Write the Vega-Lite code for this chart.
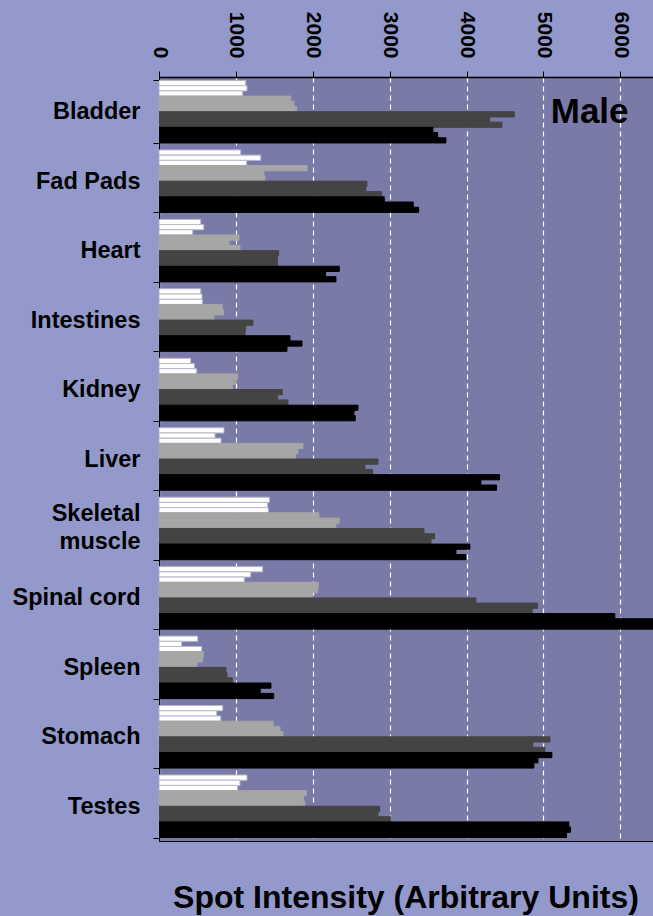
{
  "$schema": "https://vega.github.io/schema/vega-lite/v6.json",
  "autosize": {"type": "none"},
  "padding": {"left": 159, "top": 77, "right": 0, "bottom": 75},
  "width": 494,
  "height": 764,
  "background": "#9399CB",
  "config": {
    "font": "Liberation Sans",
    "view": {"fill": "#797AA8", "stroke": "#000000", "strokeWidth": 1}
  },
  "title": {
    "text": "Spot Intensity (Arbitrary Units)",
    "orient": "bottom",
    "anchor": "middle",
    "fontSize": 32,
    "fontWeight": "bold",
    "color": "#000000",
    "offset": 42
  },
  "datasets": {
    "bars": [
      {"t":"Bladder","g":"a","s":"a1","v":1127},{"t":"Bladder","g":"a","s":"a2","v":1144},{"t":"Bladder","g":"a","s":"a3","v":1088},
      {"t":"Bladder","g":"b","s":"b1","v":1712},{"t":"Bladder","g":"b","s":"b2","v":1755},{"t":"Bladder","g":"b","s":"b3","v":1790},
      {"t":"Bladder","g":"c","s":"c1","v":4620},{"t":"Bladder","g":"c","s":"c2","v":4300},{"t":"Bladder","g":"c","s":"c3","v":4460},
      {"t":"Bladder","g":"d","s":"d1","v":3562},{"t":"Bladder","g":"d","s":"d2","v":3623},{"t":"Bladder","g":"d","s":"d3","v":3731},
      {"t":"Fad Pads","g":"a","s":"a1","v":1062},{"t":"Fad Pads","g":"a","s":"a2","v":1322},{"t":"Fad Pads","g":"a","s":"a3","v":1140},
      {"t":"Fad Pads","g":"b","s":"b1","v":1924},{"t":"Fad Pads","g":"b","s":"b2","v":1365},{"t":"Fad Pads","g":"b","s":"b3","v":1378},
      {"t":"Fad Pads","g":"c","s":"c1","v":2704},{"t":"Fad Pads","g":"c","s":"c2","v":2691},{"t":"Fad Pads","g":"c","s":"c3","v":2895},
      {"t":"Fad Pads","g":"d","s":"d1","v":2929},{"t":"Fad Pads","g":"d","s":"d2","v":3306},{"t":"Fad Pads","g":"d","s":"d3","v":3376},
      {"t":"Heart","g":"a","s":"a1","v":542},{"t":"Heart","g":"a","s":"a2","v":581},{"t":"Heart","g":"a","s":"a3","v":438},
      {"t":"Heart","g":"b","s":"b1","v":1040},{"t":"Heart","g":"b","s":"b2","v":910},{"t":"Heart","g":"b","s":"b3","v":1053},
      {"t":"Heart","g":"c","s":"c1","v":1556},{"t":"Heart","g":"c","s":"c2","v":1538},{"t":"Heart","g":"c","s":"c3","v":1543},
      {"t":"Heart","g":"d","s":"d1","v":2344},{"t":"Heart","g":"d","s":"d2","v":2167},{"t":"Heart","g":"d","s":"d3","v":2301},
      {"t":"Intestines","g":"a","s":"a1","v":542},{"t":"Intestines","g":"a","s":"a2","v":559},{"t":"Intestines","g":"a","s":"a3","v":563},
      {"t":"Intestines","g":"b","s":"b1","v":823},{"t":"Intestines","g":"b","s":"b2","v":841},{"t":"Intestines","g":"b","s":"b3","v":715},
      {"t":"Intestines","g":"c","s":"c1","v":1222},{"t":"Intestines","g":"c","s":"c2","v":1127},{"t":"Intestines","g":"c","s":"c3","v":1118},
      {"t":"Intestines","g":"d","s":"d1","v":1703},{"t":"Intestines","g":"d","s":"d2","v":1859},{"t":"Intestines","g":"d","s":"d3","v":1664},
      {"t":"Kidney","g":"a","s":"a1","v":412},{"t":"Kidney","g":"a","s":"a2","v":459},{"t":"Kidney","g":"a","s":"a3","v":490},
      {"t":"Kidney","g":"b","s":"b1","v":1023},{"t":"Kidney","g":"b","s":"b2","v":1001},{"t":"Kidney","g":"b","s":"b3","v":953},
      {"t":"Kidney","g":"c","s":"c1","v":1603},{"t":"Kidney","g":"c","s":"c2","v":1543},{"t":"Kidney","g":"c","s":"c3","v":1677},
      {"t":"Kidney","g":"d","s":"d1","v":2587},{"t":"Kidney","g":"d","s":"d2","v":2535},{"t":"Kidney","g":"d","s":"d3","v":2552},
      {"t":"Liver","g":"a","s":"a1","v":845},{"t":"Liver","g":"a","s":"a2","v":728},{"t":"Liver","g":"a","s":"a3","v":806},
      {"t":"Liver","g":"b","s":"b1","v":1872},{"t":"Liver","g":"b","s":"b2","v":1807},{"t":"Liver","g":"b","s":"b3","v":1772},
      {"t":"Liver","g":"c","s":"c1","v":2847},{"t":"Liver","g":"c","s":"c2","v":2678},{"t":"Liver","g":"c","s":"c3","v":2778},
      {"t":"Liver","g":"d","s":"d1","v":4429},{"t":"Liver","g":"d","s":"d2","v":4186},{"t":"Liver","g":"d","s":"d3","v":4390},
      {"t":"Skeletal muscle","g":"a","s":"a1","v":1434},{"t":"Skeletal muscle","g":"a","s":"a2","v":1413},{"t":"Skeletal muscle","g":"a","s":"a3","v":1421},
      {"t":"Skeletal muscle","g":"b","s":"b1","v":2080},{"t":"Skeletal muscle","g":"b","s":"b2","v":2344},{"t":"Skeletal muscle","g":"b","s":"b3","v":2301},
      {"t":"Skeletal muscle","g":"c","s":"c1","v":3445},{"t":"Skeletal muscle","g":"c","s":"c2","v":3584},{"t":"Skeletal muscle","g":"c","s":"c3","v":3536},
      {"t":"Skeletal muscle","g":"d","s":"d1","v":4043},{"t":"Skeletal muscle","g":"d","s":"d2","v":3861},{"t":"Skeletal muscle","g":"d","s":"d3","v":3991},
      {"t":"Spinal cord","g":"a","s":"a1","v":1348},{"t":"Spinal cord","g":"a","s":"a2","v":1192},{"t":"Spinal cord","g":"a","s":"a3","v":1109},
      {"t":"Spinal cord","g":"b","s":"b1","v":2071},{"t":"Spinal cord","g":"b","s":"b2","v":2063},{"t":"Spinal cord","g":"b","s":"b3","v":1993},
      {"t":"Spinal cord","g":"c","s":"c1","v":4121},{"t":"Spinal cord","g":"c","s":"c2","v":4923},{"t":"Spinal cord","g":"c","s":"c3","v":4853},
      {"t":"Spinal cord","g":"d","s":"d1","v":5928},{"t":"Spinal cord","g":"d","s":"d2","v":6500},{"t":"Spinal cord","g":"d","s":"d3","v":6500},
      {"t":"Spleen","g":"a","s":"a1","v":503},{"t":"Spleen","g":"a","s":"a2","v":295},{"t":"Spleen","g":"a","s":"a3","v":555},
      {"t":"Spleen","g":"b","s":"b1","v":576},{"t":"Spleen","g":"b","s":"b2","v":568},{"t":"Spleen","g":"b","s":"b3","v":494},
      {"t":"Spleen","g":"c","s":"c1","v":871},{"t":"Spleen","g":"c","s":"c2","v":884},{"t":"Spleen","g":"c","s":"c3","v":953},
      {"t":"Spleen","g":"d","s":"d1","v":1456},{"t":"Spleen","g":"d","s":"d2","v":1317},{"t":"Spleen","g":"d","s":"d3","v":1491},
      {"t":"Stomach","g":"a","s":"a1","v":828},{"t":"Stomach","g":"a","s":"a2","v":750},{"t":"Stomach","g":"a","s":"a3","v":802},
      {"t":"Stomach","g":"b","s":"b1","v":1486},{"t":"Stomach","g":"b","s":"b2","v":1573},{"t":"Stomach","g":"b","s":"b3","v":1612},
      {"t":"Stomach","g":"c","s":"c1","v":5083},{"t":"Stomach","g":"c","s":"c2","v":4862},{"t":"Stomach","g":"c","s":"c3","v":5018},
      {"t":"Stomach","g":"d","s":"d1","v":5109},{"t":"Stomach","g":"d","s":"d2","v":4927},{"t":"Stomach","g":"d","s":"d3","v":4875},
      {"t":"Testes","g":"a","s":"a1","v":1144},{"t":"Testes","g":"a","s":"a2","v":1053},{"t":"Testes","g":"a","s":"a3","v":1023},
      {"t":"Testes","g":"b","s":"b1","v":1915},{"t":"Testes","g":"b","s":"b2","v":1876},{"t":"Testes","g":"b","s":"b3","v":1898},
      {"t":"Testes","g":"c","s":"c1","v":2869},{"t":"Testes","g":"c","s":"c2","v":2847},{"t":"Testes","g":"c","s":"c3","v":3012},
      {"t":"Testes","g":"d","s":"d1","v":5330},{"t":"Testes","g":"d","s":"d2","v":5352},{"t":"Testes","g":"d","s":"d3","v":5300}
    ],
    "label": [{"label": "Male", "x": 5600, "t": "Bladder"}]
  },
  "layer": [
    {
      "data": {"name": "bars"},
      "mark": {"type": "bar", "clip": true, "strokeWidth": 1},
      "encoding": {
        "y": {
          "field": "t",
          "type": "nominal",
          "sort": null,
          "scale": {"paddingInner": 0.1, "paddingOuter": 0.05},
          "axis": {
            "title": null,
            "orient": "left",
            "tickBand": "extent",
            "tickSize": 6,
            "tickColor": "#000000",
            "domainColor": "#000000",
            "labelPadding": 13,
            "labelFontSize": 23.5,
            "labelFontWeight": "bold",
            "labelColor": "#000000",
            "labelLineHeight": 28,
            "labelLimit": 300,
            "labelOffset": {"condition": {"test": "datum.value == 'Skeletal muscle'", "value": -15}, "value": 0},
            "labelExpr": "datum.value == 'Skeletal muscle' ? ['Skeletal', 'muscle'] : datum.value"
          }
        },
        "yOffset": {
          "field": "s",
          "type": "nominal",
          "scale": {"paddingInner": 0, "paddingOuter": 0}
        },
        "x": {
          "field": "v",
          "type": "quantitative",
          "scale": {"domain": [0, 6424], "nice": false},
          "axis": {
            "title": null,
            "orient": "top",
            "values": [0, 1000, 2000, 3000, 4000, 5000, 6000],
            "format": "d",
            "labelAngle": 90,
            "labelAlign": "right",
            "labelBaseline": "middle",
            "labelFontSize": 21,
            "labelFontWeight": "bold",
            "labelColor": "#000000",
            "labelPadding": 13,
            "tickSize": 6,
            "tickColor": "#000000",
            "domainColor": "#000000",
            "domainWidth": 1.5,
            "grid": true,
            "gridColor": "#FFFFFF",
            "gridDash": [5, 4],
            "gridOpacity": 1,
            "gridWidth": 1.2
          }
        },
        "color": {
          "field": "g",
          "type": "nominal",
          "scale": {"domain": ["a", "b", "c", "d"], "range": ["#FFFFFF", "#A6A6A6", "#444444", "#000000"]},
          "legend": null
        },
        "stroke": {
          "field": "g",
          "type": "nominal",
          "scale": {"domain": ["a", "b", "c", "d"], "range": ["#B8B8C8", "#A6A6A6", "#444444", "#000000"]},
          "legend": null
        }
      }
    },
    {
      "data": {"name": "label"},
      "mark": {"type": "text", "fontSize": 35, "fontWeight": "bold", "color": "#000000", "align": "center", "baseline": "middle"},
      "encoding": {
        "text": {"field": "label"},
        "x": {"field": "x", "type": "quantitative"},
        "y": {"field": "t", "type": "nominal", "sort": null}
      }
    }
  ]
}
